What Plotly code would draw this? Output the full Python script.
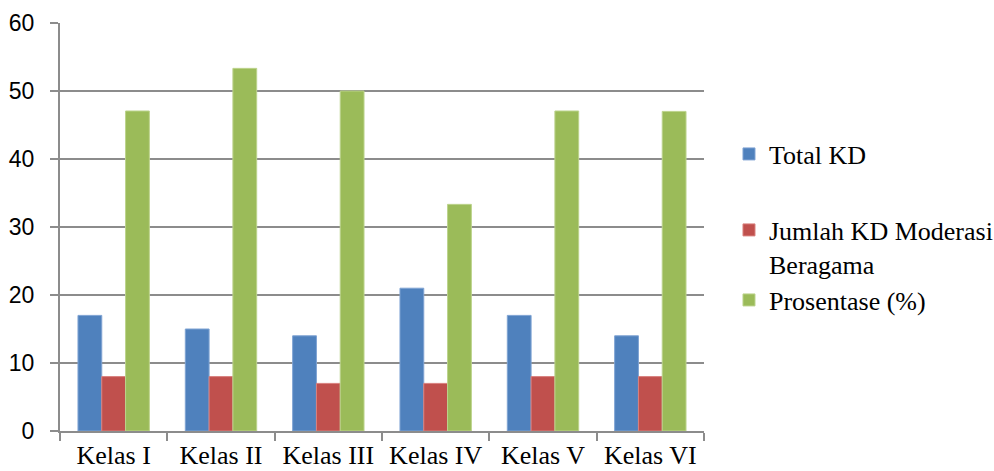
import plotly.graph_objects as go

categories = ["Kelas I", "Kelas II", "Kelas III", "Kelas IV", "Kelas V", "Kelas VI"]
total_kd = [17, 15, 14, 21, 17, 14]
jumlah_kd = [8, 8, 7, 7, 8, 8]
prosentase = [47.06, 53.33, 50, 33.33, 47.06, 47]

series = [
    ("Total KD", total_kd, "#4F81BD", "#7fa3d3"),
    ("Jumlah KD Moderasi<br>Beragama", jumlah_kd, "#C0504D", "#d9807e"),
    ("Prosentase (%)", prosentase, "#9BBB59", "#bcd38c"),
]
legend_ids = ["legend", "legend2", "legend3"]
legend_y = [0.673, 0.4756, 0.363]

fig = go.Figure()
for (name, vals, col, edge), lid in zip(series, legend_ids):
    fig.add_trace(go.Bar(
        x=categories, y=vals, name=name,
        marker=dict(color=col, line=dict(color=edge, width=1)),
        legend=lid,
    ))

legend_font = dict(family="Liberation Serif", size=26, color="black")
legend_common = dict(x=0.7334, xref="container", yref="container",
                     xanchor="left", yanchor="middle", font=legend_font,
                     valign="top", itemwidth=30, bgcolor="rgba(0,0,0,0)")

grid = "#8c8c8c"
fig.update_layout(
    width=994, height=471,
    margin=dict(l=60, r=290, t=23, b=40),
    paper_bgcolor="white", plot_bgcolor="white",
    barmode="group", bargap=0.335, bargroupgap=0,
    showlegend=True,
    legend=dict(y=legend_y[0], **legend_common),
    legend2=dict(y=legend_y[1], **legend_common),
    legend3=dict(y=legend_y[2], **legend_common),
    xaxis=dict(
        showline=True, linecolor=grid, linewidth=2,
        ticks="outside", ticklen=8, tickwidth=2, tickcolor=grid,
        tickson="boundaries", automargin=False,
        tickfont=dict(family="Liberation Serif", size=26, color="black"),
        showgrid=False,
    ),
    yaxis=dict(
        range=[0, 60], dtick=10,
        showline=True, linecolor=grid, linewidth=2,
        ticks="outside", ticklen=8, tickwidth=2, tickcolor=grid,
        showgrid=True, gridcolor=grid, gridwidth=2,
        zeroline=False, automargin=False,
        tickfont=dict(family="Liberation Sans", size=23, color="black"),
        ticklabelstandoff=11,
    ),
)

fig.write_html("out.html")
